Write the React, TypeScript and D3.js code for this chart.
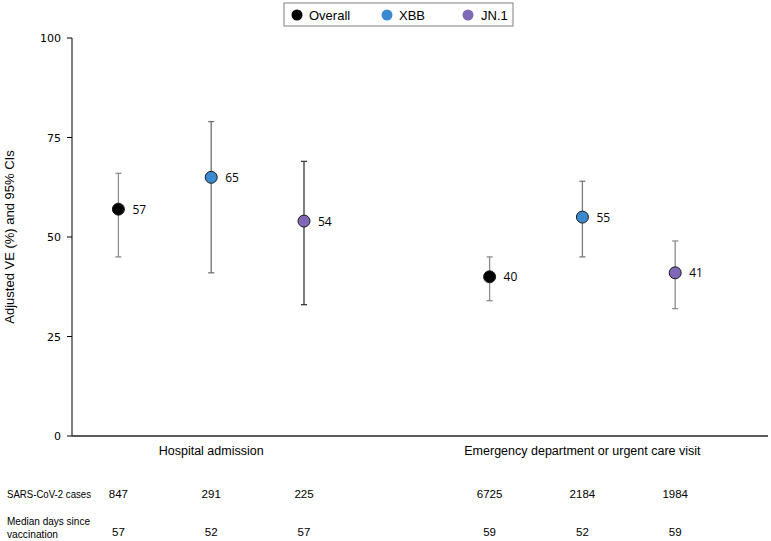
import React from "react";
import * as d3 from "d3";

const groups = ["Hospital admission", "Emergency department or urgent care visit"];
const series = ["Overall", "XBB", "JN.1"];
const colors = ["#000000", "#3b8ad0", "#8068b8"];
const barColors = ["#8c8c8c", "#6e6e6e", "#3a3a3a", "#8c8c8c", "#7a7a7a", "#8c8c8c"];
const slots = [0, 1, 2, 4, 5, 6];
const seriesIdx = [0, 1, 2, 0, 1, 2];
const ve = [57, 65, 54, 40, 55, 41];
const lo = [45, 41, 33, 34, 45, 32];
const hi = [66, 79, 69, 45, 64, 49];
const cases = ["847", "291", "225", "6725", "2184", "1984"];
const medianDays = ["57", "52", "57", "59", "52", "59"];
const yTicks = [0, 25, 50, 75, 100];

export default function App() {
  const W = 771, H = 541;
  const x = d3.scaleLinear().domain([-0.5, 7]).range([72, 768]);
  const y = d3.scaleLinear().domain([0, 100]).range([436, 38]);
  const arial = "'Liberation Sans', Arial, sans-serif";
  const lbl = "'Open Sans', 'Noto Sans', sans-serif";
  const legendItems = [
    { cx: 297, tx: 309 },
    { cx: 387, tx: 399 },
    { cx: 468, tx: 481 },
  ];
  const narrowText = (key: string, tx: number, ty: number, s: string, anchor: string, len?: number) => (
    <text
      key={key}
      x={tx}
      y={ty}
      textAnchor={anchor}
      fontFamily={arial}
      fontSize={11.5}
      fill="#000"
      textLength={len}
      lengthAdjust={len ? "spacingAndGlyphs" : undefined}
    >
      {s}
    </text>
  );
  return (
    <svg width={W} height={H} style={{ position: "absolute", left: 0, top: 0, background: "#fff" }}>
      {/* Legend */}
      <rect x={284} y={3} width={229} height={23} fill="#fff" stroke="#7f7f7f" strokeWidth={1} />
      {legendItems.map((it, i) => (
        <g key={i}>
          <circle cx={it.cx} cy={15} r={5.5} fill={colors[i]} />
          <text x={it.tx} y={19.5} fontFamily={arial} fontSize={13} fill="#000">{series[i]}</text>
        </g>
      ))}
      {/* Y axis */}
      <line x1={72} x2={72} y1={y(100)} y2={y(0)} stroke="#000" strokeWidth={1} />
      {yTicks.map((t) => (
        <g key={t}>
          <line x1={67} x2={72} y1={y(t)} y2={y(t)} stroke="#000" />
          <text x={61} y={y(t) + 4} textAnchor="end" fontFamily="'DejaVu Sans', Verdana, sans-serif" fontSize={11} fill="#000">{t}</text>
        </g>
      ))}
      <text transform={`translate(14,${y(50)}) rotate(-90)`} textAnchor="middle" fontFamily={arial} fontSize={13} fill="#000">Adjusted VE (%) and 95% CIs</text>
      {/* X axis */}
      <line x1={72} x2={768} y1={y(0)} y2={y(0)} stroke="#222" strokeWidth={1.5} />
      {/* Error bars and points */}
      {ve.map((v, i) => {
        const cx = x(slots[i]);
        return (
          <g key={i}>
            <line x1={cx} x2={cx} y1={y(lo[i])} y2={y(hi[i])} stroke={barColors[i]} strokeWidth={1.3} />
            <line x1={cx - 3} x2={cx + 3} y1={y(lo[i])} y2={y(lo[i])} stroke={barColors[i]} strokeWidth={1.3} />
            <line x1={cx - 3} x2={cx + 3} y1={y(hi[i])} y2={y(hi[i])} stroke={barColors[i]} strokeWidth={1.3} />
            <circle cx={cx} cy={y(v)} r={6} fill={colors[seriesIdx[i]]} stroke="#1a1a1a" strokeWidth={1} />
            <text x={cx + 14} y={y(v) + 4.5} fontFamily={lbl} fontSize={12} fill="#000">{v}</text>
          </g>
        );
      })}
      {/* Category labels */}
      {groups.map((g, gi) => (
        <text key={g} x={x(gi * 4 + 1)} y={455} textAnchor="middle" fontFamily={arial} fontSize={12.5} fill="#000">{g}</text>
      ))}
      {/* Table */}
      {narrowText("r1", 7, 498, "SARS-CoV-2 cases", "start", 84)}
      {narrowText("r2", 7, 525, "Median days since", "start", 83)}
      {narrowText("r3", 7, 538, "vaccination", "start", 51)}
      {cases.map((c, i) => narrowText("c" + i, x(slots[i]), 498, c, "middle"))}
      {medianDays.map((c, i) => narrowText("m" + i, x(slots[i]), 536, c, "middle"))}
    </svg>
  );
}
